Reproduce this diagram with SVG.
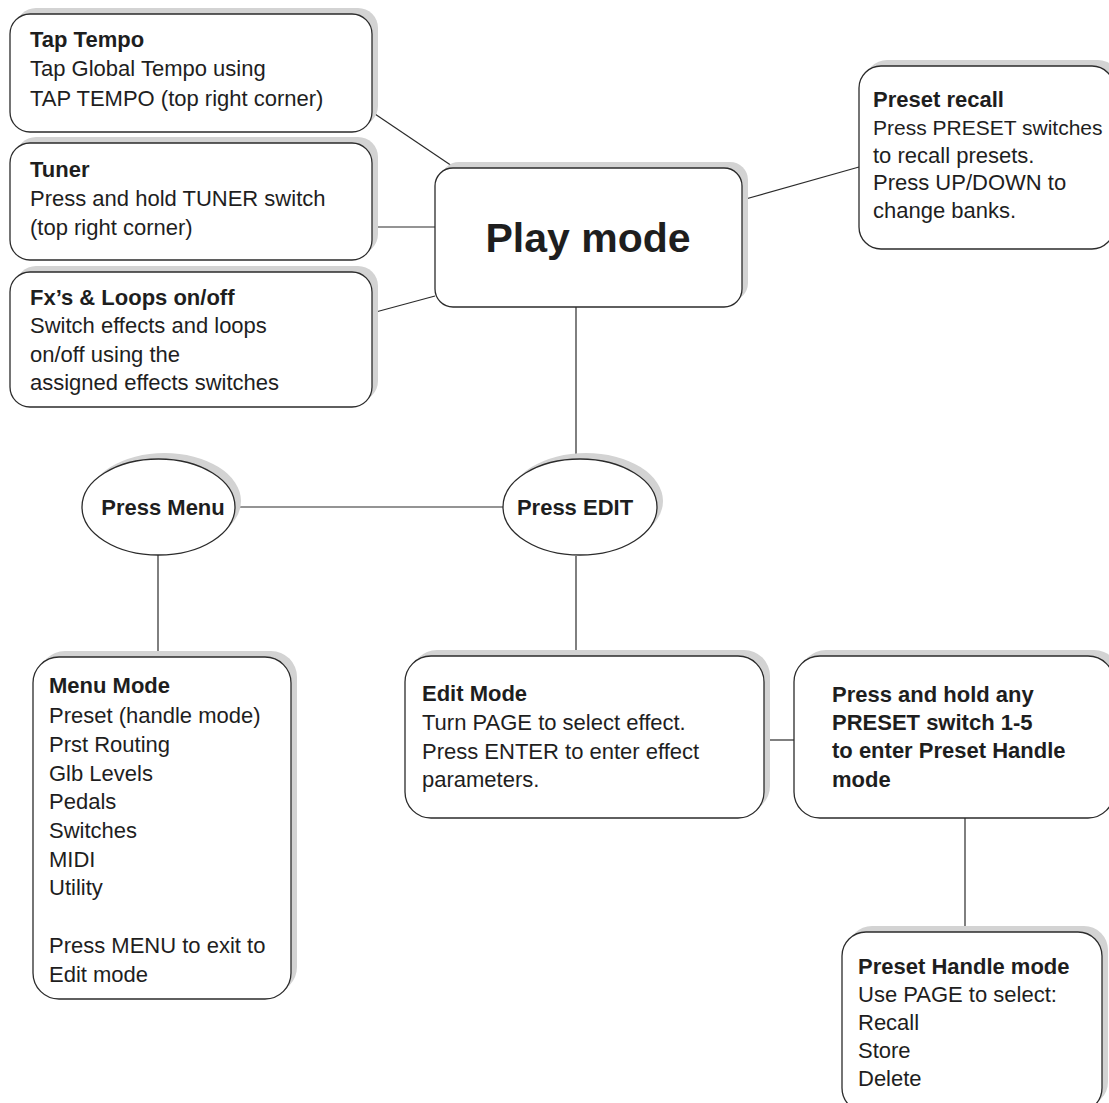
<svg xmlns="http://www.w3.org/2000/svg" width="1109" height="1103" viewBox="0 0 1109 1103">
<style>
.bg{fill:#ffffff}
.sh{fill:#d3d3d3;stroke:none}
.bx{fill:#ffffff;stroke:#2b2b2b;stroke-width:1.3}
.ln{stroke:#2b2b2b;stroke-width:1.2;fill:none}
text{font-family:"Liberation Sans",Arial,sans-serif;font-size:22px;fill:#1e1e1e}
.b{font-weight:bold}
.big{font-weight:bold;font-size:41px}
.sm{font-size:21px}
</style>
<rect class="bg" x="0" y="0" width="1109" height="1103"/>
<g id="connectors">
<line class="ln" x1="372" y1="112" x2="455" y2="168"/>
<line class="ln" x1="372" y1="227" x2="435" y2="227"/>
<line class="ln" x1="372" y1="313" x2="435" y2="296"/>
<line class="ln" x1="742" y1="200" x2="859" y2="167"/>
<line class="ln" x1="576" y1="307" x2="576" y2="460"/>
<line class="ln" x1="235" y1="507" x2="503" y2="507"/>
<line class="ln" x1="158" y1="555" x2="158" y2="657"/>
<line class="ln" x1="576" y1="556" x2="576" y2="656"/>
<line class="ln" x1="764" y1="740" x2="794" y2="740"/>
<line class="ln" x1="965" y1="818" x2="965" y2="932"/>
</g>
<g id="tap-tempo">
<rect class="sh" x="16" y="8" width="362" height="118" rx="20"/>
<rect class="bx" x="10" y="14" width="362" height="118" rx="20"/>
<text x="30" y="47" class="b">Tap Tempo</text>
<text x="30" y="76">Tap Global Tempo using</text>
<text x="30" y="106">TAP TEMPO (top right corner)</text>
</g>
<g id="tuner">
<rect class="sh" x="16" y="137" width="362" height="117" rx="20"/>
<rect class="bx" x="10" y="143" width="362" height="117" rx="20"/>
<text x="30" y="177" class="b">Tuner</text>
<text x="30" y="206">Press and hold TUNER switch</text>
<text x="30" y="235">(top right corner)</text>
</g>
<g id="fx-loops">
<rect class="sh" x="16" y="266" width="362" height="135" rx="20"/>
<rect class="bx" x="10" y="272" width="362" height="135" rx="20"/>
<text x="30" y="305" class="b">Fx’s &amp; Loops on/off</text>
<text x="30" y="333">Switch effects and loops</text>
<text x="30" y="362">on/off using the</text>
<text x="30" y="390">assigned effects switches</text>
</g>
<g id="play-mode">
<rect class="sh" x="441" y="162" width="307" height="139" rx="18"/>
<rect class="bx" x="435" y="168" width="307" height="139" rx="18"/>
<text x="588" y="252" class="big" text-anchor="middle">Play mode</text>
</g>
<g id="preset-recall">
<rect class="sh" x="865" y="60" width="255" height="183" rx="22"/>
<rect class="bx" x="859" y="66" width="255" height="183" rx="22"/>
<text x="873" y="107" class="b">Preset recall</text>
<text x="873" y="135" class="sm">Press PRESET switches</text>
<text x="873" y="163">to recall presets.</text>
<text x="873" y="190">Press UP/DOWN to</text>
<text x="873" y="218">change banks.</text>
</g>
<g id="press-menu">
<ellipse class="sh" cx="164.5" cy="501" rx="76.5" ry="48"/>
<ellipse class="bx" cx="158.5" cy="507" rx="76.5" ry="48"/>
<text x="163" y="515" class="b" text-anchor="middle">Press Menu</text>
</g>
<g id="press-edit">
<ellipse class="sh" cx="586" cy="501" rx="77" ry="48"/>
<ellipse class="bx" cx="580" cy="507" rx="77" ry="48"/>
<text x="575" y="515" class="b" text-anchor="middle">Press EDIT</text>
</g>
<g id="menu-mode">
<rect class="sh" x="39" y="651" width="258" height="342" rx="26"/>
<rect class="bx" x="33" y="657" width="258" height="342" rx="26"/>
<text x="49" y="693" class="b">Menu Mode</text>
<text x="49" y="723">Preset (handle mode)</text>
<text x="49" y="752">Prst Routing</text>
<text x="49" y="781">Glb Levels</text>
<text x="49" y="809">Pedals</text>
<text x="49" y="838">Switches</text>
<text x="49" y="867">MIDI</text>
<text x="49" y="895">Utility</text>
<text x="49" y="953">Press MENU to exit to</text>
<text x="49" y="982">Edit mode</text>
</g>
<g id="edit-mode">
<rect class="sh" x="411" y="650" width="359" height="162" rx="26"/>
<rect class="bx" x="405" y="656" width="359" height="162" rx="26"/>
<text x="422" y="701" class="b">Edit Mode</text>
<text x="422" y="730">Turn PAGE to select effect.</text>
<text x="422" y="759">Press ENTER to enter effect</text>
<text x="422" y="787">parameters.</text>
</g>
<g id="press-hold">
<rect class="sh" x="800" y="650" width="320" height="162" rx="26"/>
<rect class="bx" x="794" y="656" width="320" height="162" rx="26"/>
<text x="832" y="702" class="b">Press and hold any</text>
<text x="832" y="730" class="b">PRESET switch 1-5</text>
<text x="832" y="758" class="b">to enter Preset Handle</text>
<text x="832" y="787" class="b">mode</text>
</g>
<g id="preset-handle">
<rect class="sh" x="848" y="926" width="260" height="180" rx="24"/>
<rect class="bx" x="842" y="932" width="260" height="180" rx="24"/>
<text x="858" y="974" class="b">Preset Handle mode</text>
<text x="858" y="1002">Use PAGE to select:</text>
<text x="858" y="1030">Recall</text>
<text x="858" y="1058">Store</text>
<text x="858" y="1086">Delete</text>
</g>
</svg>
